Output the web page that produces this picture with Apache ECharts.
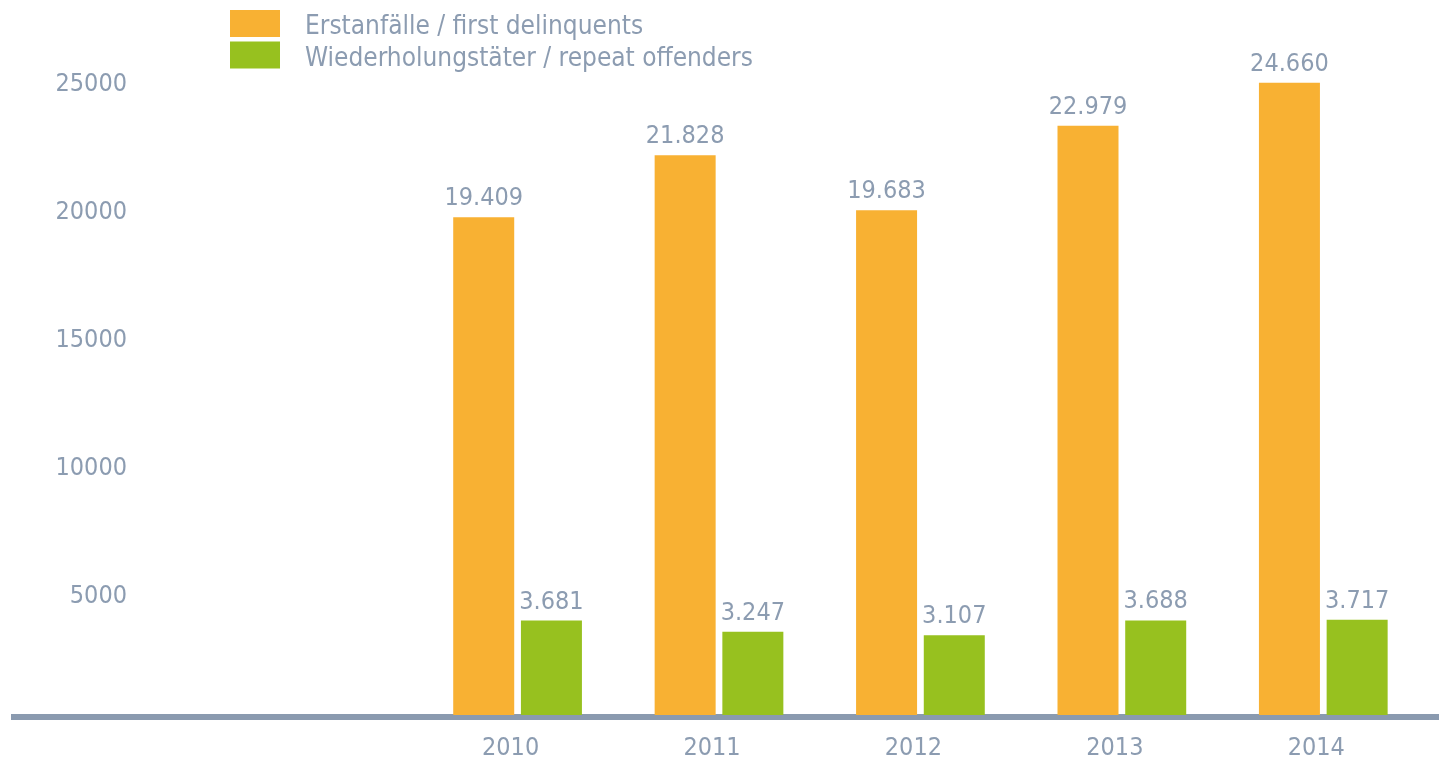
<!DOCTYPE html>
<html>
<head>
<meta charset="utf-8">
<style>
  html, body { margin: 0; padding: 0; background: #ffffff; }
  #chart { width: 1439px; height: 761px; }
</style>
<script src="https://cdn.jsdelivr.net/npm/echarts@6/dist/echarts.min.js"></script>
</head>
<body>
<div id="chart"></div>
<script>
// Years (two leading empty slots keep the bars on the right of the baseline)
const categories = ['', '', '2010', '2011', '2012', '2013', '2014'];
const firstDelinquents = [null, null, 19409, 21828, 19683, 22979, 24660];
const repeatOffenders = [null, null, 3681, 3247, 3107, 3688, 3717];
const seriesNames = ['Erstanfälle / first delinquents', 'Wiederholungstäter / repeat offenders'];
const yTicks = { min: 0, max: 25000, interval: 5000 };

const FONT = "'Liberation Sans Narrow', 'DejaVu Sans Condensed', sans-serif";
const TEXT = '#8c9cb1';
const ORANGE = '#f8b133';
const GREEN = '#97c11f';
const AXIS = '#8a9aaf';
const SIZE = 25;

// German thousands separator: 19409 -> 19.409
function fmt(v) {
  return String(v).replace(/\B(?=(\d{3})+(?!\d))/g, '.');
}

const valueLabel = {
  show: true,
  position: 'top',
  distance: 6,
  color: TEXT,
  fontFamily: FONT,
  fontSize: SIZE,
  formatter: p => fmt(p.value)
};

const chart = echarts.init(document.getElementById('chart'), null, { renderer: 'canvas' });
chart.setOption({
  animation: false,
  backgroundColor: '#ffffff',
  textStyle: { fontFamily: FONT },
  legend: {
    orient: 'vertical',
    left: 230,
    top: 10,
    padding: 0,
    itemWidth: 50,
    itemHeight: 27,
    itemGap: 1,
    icon: 'rect',
    formatter: '{t|{name}}',
    textStyle: {
      color: TEXT,
      fontFamily: FONT,
      fontSize: 26,
      rich: {
        t: { color: TEXT, fontFamily: FONT, fontSize: 26, padding: [8, 0, 0, 20] }
      }
    },
    data: seriesNames
  },
  grid: [
    { left: 14, right: 15, top: 74, bottom: 44 },
    // baseline that runs the full width of the page
    { left: 11, right: 0, top: 74, bottom: 44 }
  ],
  xAxis: [
    {
      type: 'category',
      data: categories,
      axisLine: { show: false },
      axisTick: { show: false },
      axisLabel: {
        color: TEXT,
        fontFamily: FONT,
        fontSize: SIZE,
        margin: 21,
        padding: [0, 14, 0, 0]
      }
    },
    {
      gridIndex: 1,
      type: 'value',
      min: 0,
      max: 1,
      axisLine: { show: true, lineStyle: { color: AXIS, width: 6, cap: 'butt' } },
      axisTick: { show: false },
      axisLabel: { show: false },
      splitLine: { show: false }
    }
  ],
  yAxis: [
    {
      type: 'value',
      min: yTicks.min,
      max: yTicks.max,
      interval: yTicks.interval,
      axisLine: { show: false },
      axisTick: { show: false },
      splitLine: { show: false },
      axisLabel: {
        inside: true,
        margin: 113,
        align: 'right',
        verticalAlign: 'top',
        lineHeight: 20,
        color: TEXT,
        fontFamily: FONT,
        fontSize: SIZE,
        formatter: v => (v === 0 ? '' : String(v))
      }
    },
    { gridIndex: 1, type: 'value', show: false }
  ],
  series: [
    {
      name: seriesNames[0],
      type: 'bar',
      data: firstDelinquents,
      barWidth: 61,
      barGap: '11%',
      itemStyle: { color: ORANGE },
      label: valueLabel
    },
    {
      name: seriesNames[1],
      type: 'bar',
      data: repeatOffenders,
      barWidth: 61,
      barGap: '11%',
      itemStyle: { color: GREEN },
      label: valueLabel
    }
  ]
});
</script>
</body>
</html>
